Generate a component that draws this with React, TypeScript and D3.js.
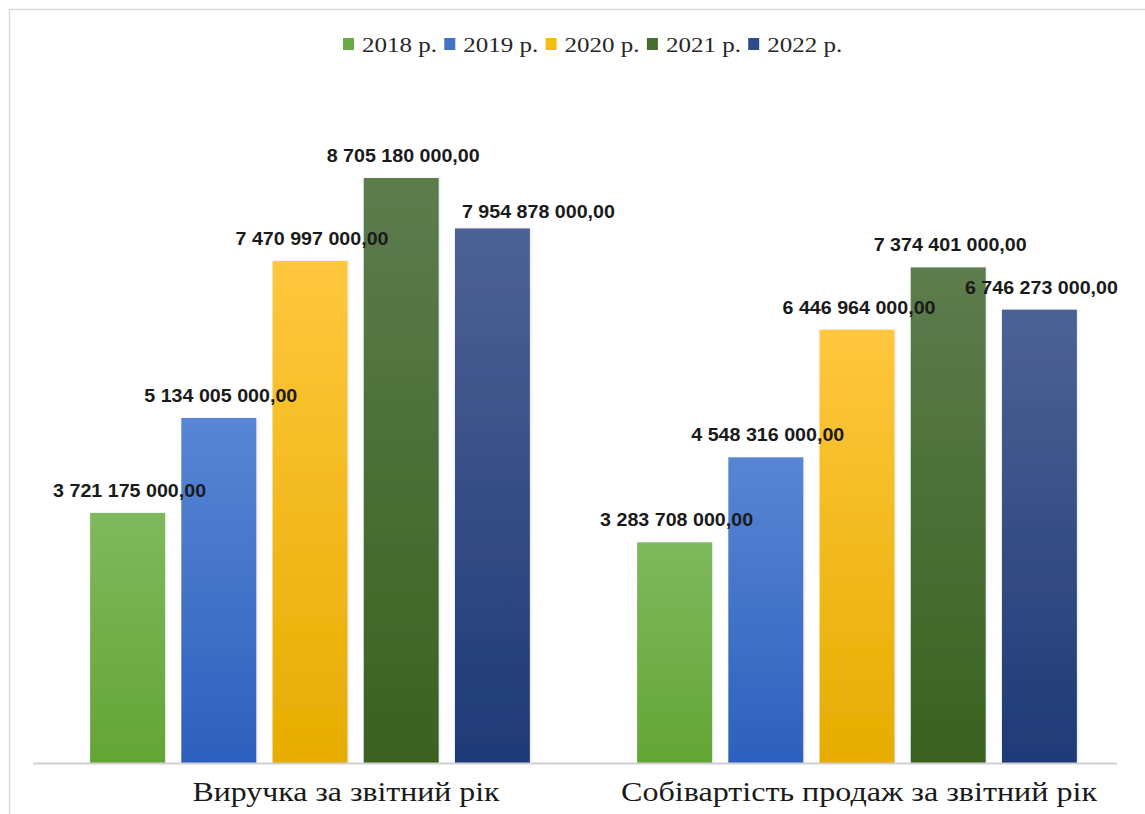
import React from "react";
import * as d3 from "d3";

const categories = ["Виручка за звітний рік", "Собівартість продаж за звітний рік"];
const seriesNames = ["2018 р.", "2019 р.", "2020 р.", "2021 р.", "2022 р."];
const revenue = [3721175000, 5134005000, 7470997000, 8705180000, 7954878000];
const costOfSales = [3283708000, 4548316000, 6446964000, 7374401000, 6746273000];
const seriesValues = [revenue, costOfSales];

const gradTop = ["#7fb95c", "#5886d4", "#ffc73d", "#5d7c4d", "#4d6294"];
const gradBottom = ["#64a535", "#2d60bd", "#e6ad00", "#3a621f", "#1e3a77"];
const legendColors = ["#6aab45", "#4472c4", "#f6bd12", "#476d30", "#2d4b8a"];

const W = 1145;
const H = 814;

const fmt = (v: number) => {
  const s = d3.format(",.2f")(v);
  return s.replace(/,/g, " ").replace(/\.(\d\d)$/, ",$1");
};

export default function App() {
  const y0 = 763;
  const yScale = d3.scaleLinear().domain([0, 10000000000]).range([y0, y0 - 672]);
  const xGroup = d3.scaleBand<number>().domain([0, 1]).range([36.5, 1130.5]).paddingInner(0).paddingOuter(0);
  const xSeries = d3
    .scaleBand<number>()
    .domain([0, 1, 2, 3, 4])
    .range([0, xGroup.bandwidth()])
    .paddingInner(0.178)
    .paddingOuter(0.588);

  const catTextLen = [307, 476];
  const catShift = [36, 2];
  const labelShift = (g: number, s: number) => (g === 0 && s === 4 ? { dx: 44, dy: 6 } : { dx: 0, dy: 0 });

  return (
    <svg
      width={W}
      height={H}
      style={{ position: "absolute", left: 0, top: 0, background: "#fff" }}
    >
      <defs>
        {seriesNames.map((_, i) => (
          <linearGradient key={i} id={`g${i}`} x1="0" y1="0" x2="0" y2="1">
            <stop offset="0%" stopColor={gradTop[i]} />
            <stop offset="100%" stopColor={gradBottom[i]} />
          </linearGradient>
        ))}
        <filter id="sh" x="-10%" y="-10%" width="120%" height="120%">
          <feDropShadow dx="1" dy="0" stdDeviation="1.2" floodColor="#8899cc" floodOpacity="0.25" />
        </filter>
      </defs>
      <rect x={0} y={0} width={W} height={H} fill="#fff" />
      <line x1={9.5} y1={9.5} x2={W} y2={9.5} stroke="#d9d9d9" strokeWidth={1.5} />
      <line x1={9.5} y1={9.5} x2={9.5} y2={H} stroke="#d9d9d9" strokeWidth={1.5} />

      {/* legend */}
      {seriesNames.map((name, i) => {
        const lx = 343 + i * 101.3;
        return (
          <g key={name}>
            <rect x={lx} y={38} width={11} height={12} fill={legendColors[i]} />
            <text
              x={lx + 19}
              y={52}
              fontFamily="'Liberation Serif', 'Times New Roman', serif"
              fontSize={20}
              fill="#262626"
              textLength={75}
              lengthAdjust="spacingAndGlyphs"
            >
              {name}
            </text>
          </g>
        );
      })}

      {/* bars */}
      {categories.map((cat, g) => (
        <g key={cat} transform={`translate(${xGroup(g)},0)`}>
          {seriesValues[g].map((v, s) => {
            const x = xSeries(s)!;
            const yTop = yScale(v);
            return (
              <rect
                key={s}
                x={x}
                y={yTop}
                width={xSeries.bandwidth()}
                height={y0 - yTop}
                fill={`url(#g${s})`}
                filter="url(#sh)"
              />
            );
          })}
        </g>
      ))}

      {/* axis line */}
      <line x1={33} y1={763.5} x2={1117} y2={763.5} stroke="#d0d0d0" strokeWidth={2} />

      {/* data labels */}
      {categories.map((cat, g) => (
        <g key={cat + "l"} transform={`translate(${xGroup(g)},0)`}>
          {seriesValues[g].map((v, s) => {
            const sh = labelShift(g, s);
            const cx = xSeries(s)! + xSeries.bandwidth() / 2 + 2 + sh.dx;
            return (
              <text
                key={s}
                x={cx}
                y={yScale(v) - 16 + sh.dy}
                textAnchor="middle"
                fontFamily="'Liberation Sans', Arial, sans-serif"
                fontWeight="bold"
                fontSize={18}
                fill="#1a1a1a"
                textLength={153}
                lengthAdjust="spacingAndGlyphs"
              >
                {fmt(v)}
              </text>
            );
          })}
        </g>
      ))}

      {/* category labels */}
      {categories.map((cat, g) => (
        <text
          key={cat + "c"}
          x={xGroup(g)! + xGroup.bandwidth() / 2 + catShift[g]}
          y={801}
          textAnchor="middle"
          fontFamily="'Liberation Serif', 'Times New Roman', serif"
          fontSize={28}
          fill="#1a1a1a"
          textLength={catTextLen[g]}
          lengthAdjust="spacingAndGlyphs"
        >
          {cat}
        </text>
      ))}
    </svg>
  );
}
